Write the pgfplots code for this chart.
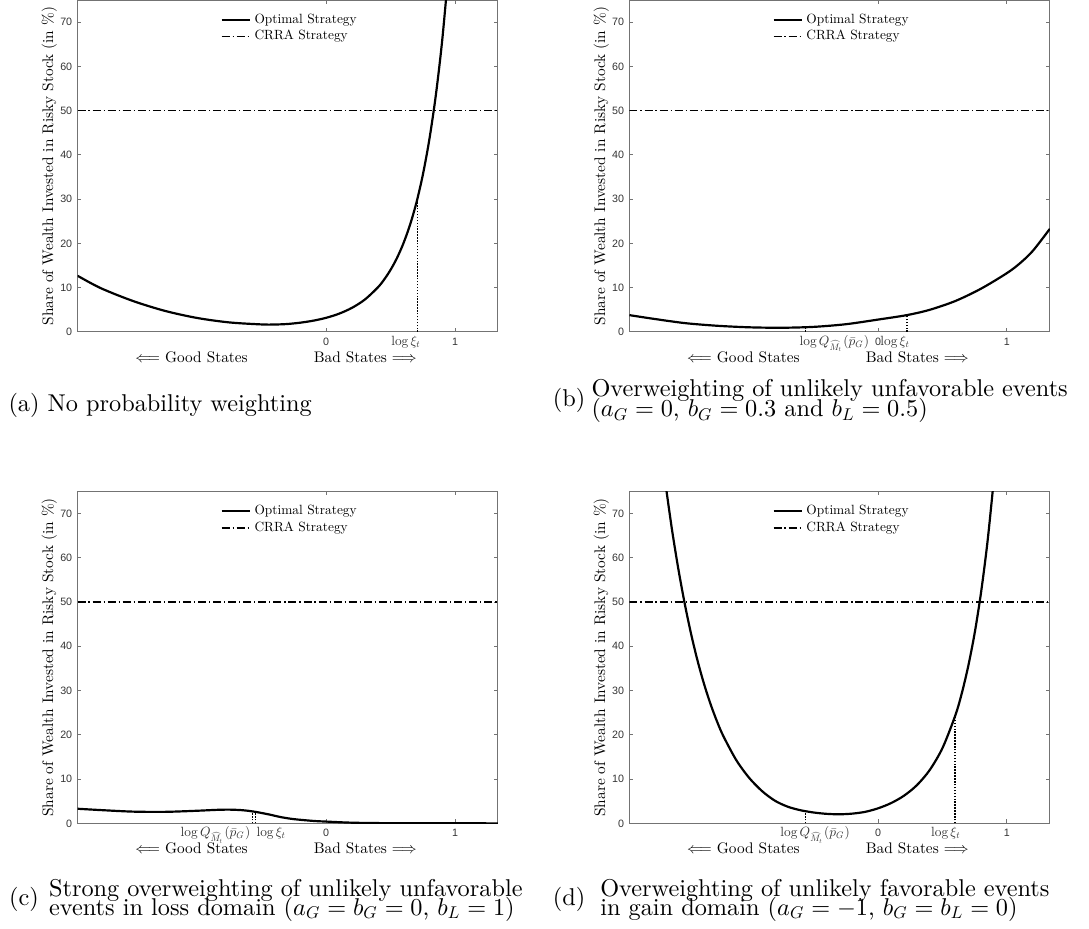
\documentclass[border=0pt]{standalone}
\usepackage{fontspec}
\setmainfont{lmroman10-regular.otf}[ItalicFont=lmroman10-italic.otf, BoldFont=lmroman10-bold.otf]
\DeclareFontShape{OML}{cmm}{m}{it}{<->cmmi10}{}
\DeclareFontShape{OMS}{cmsy}{m}{n}{<->cmsy10}{}
\DeclareFontShape{OMX}{cmex}{m}{n}{<->cmex10}{}
\DeclareFontShape{OT1}{cmr}{m}{n}{<->cmr10}{}
\usepackage{pgfplots}
\pgfplotsset{compat=1.18}
\newfontfamily\sansf{Liberation Sans}
\newcommand\tickf{\sansf\fontsize{4.4}{5}\selectfont}
\newcommand\mathtf{\fontsize{5.5}{6}\selectfont}
\newcommand\labf{\fontsize{6.3}{7}\selectfont}
\newcommand\legf{\fontsize{5.5}{6}\selectfont}
\pgfplotsset{
 legend image code/.code={\draw[#1] (0pt,0pt) -- (11.7pt,0pt);},
 panel/.style={
  scale only axis, width=173pt, height=136.6pt, anchor=south west,
  xmin=-1.93, xmax=1.333, ymin=0, ymax=75,
  xtick={0,1}, xticklabels={0,1},
  ytick={0,10,...,70}, yticklabels={0,10,20,30,40,50,60,70},
  xtick pos=both, ytick pos=both, tick align=inside,
  major tick length=1.6pt,
  axis line style={black!55, line width=0.4pt},
  every tick/.style={black!55, line width=0.4pt},
  ticklabel style={font=\tickf, text=black!80},
  xticklabel style={anchor=base, yshift=-5.6pt, inner sep=0pt},
  yticklabel style={anchor=east, inner sep=0pt, xshift=-2pt},
  extra x tick style={major tick length=0pt},
  clip mode=individual,
  legend style={at={(0.339,0.961)}, anchor=north west, draw=none, fill=none,
    inner sep=0pt, font=\legf, nodes={inner sep=0pt, text height=4pt, text depth=1.2pt},
    row sep=1.7pt, column sep=1.4pt},
  legend cell align=left,
 },
 opt/.style={black, line width=0.9pt, smooth, tension=0.5},
 crra/.style={black, line width=0.5pt, dash pattern=on 3.3pt off 1.2pt on 0.5pt off 1.2pt},
 dotl/.style={black, line width=0.65pt, dash pattern=on 0.6pt off 0.6pt, forget plot},
}
\newcommand\axlabels{%
  \node[rotate=90, anchor=base, font=\labf, inner sep=0pt] at ([xshift=-10pt]rel axis cs:0,0.5) {Share of Wealth Invested in Risky Stock (in \%)};
  \node[anchor=base east, font=\labf, inner sep=0pt] at ([yshift=-12.5pt]rel axis cs:0.406,0) {$\Longleftarrow$ Good States};
  \node[anchor=base west, font=\labf, inner sep=0pt] at ([yshift=-12.5pt]rel axis cs:0.561,0) {Bad States $\Longrightarrow$};
}
\begin{document}
\begin{tikzpicture}
\path[use as bounding box] (0,0) rectangle (448.1pt,381.9pt);

% (a)
\begin{axis}[panel, at={(31.9pt,245.3pt)},
  extra x ticks={0.708},
  extra x tick labels={\llap{\mathtf$\log\xi_t$\hspace{-1.5pt}}}]
\addplot[opt] coordinates {(-1.93,12.7) (-1.75,9.9) (-1.5,7.0) (-1.25,4.75) (-1.0,3.15) (-0.75,2.15) (-0.5,1.7) (-0.4,1.68) (-0.3,1.8) (-0.2,2.1) (-0.1,2.55) (0,3.2) (0.1,4.13) (0.2,5.45) (0.3,7.32) (0.4,10.04) (0.45,11.85) (0.5,14.06) (0.55,16.75) (0.6,20.07) (0.65,24.15) (0.7,29.2) (0.75,35.5) (0.8,43.4) (0.85,53.3) (0.9,65.8) (0.95,81.7)};
\addlegendentry{Optimal Strategy}
\addplot[crra] coordinates {(-1.93,50) (1.333,50)};
\addlegendentry{CRRA Strategy}
\addplot[dotl] coordinates {(0.708,0) (0.708,30.1)};
\axlabels
\end{axis}

% (b)
\begin{axis}[panel, at={(259.0pt,245.3pt)},
  extra x ticks={-0.562,0.222},
  extra x tick labels={{\rlap{\hspace{-2.5pt}\mathtf$\log Q_{\widehat{M}_t}(\bar p_G)$}},{\llap{\mathtf$\log\xi_t$\hspace{-1.4pt}}}}]
\addplot[opt] coordinates {(-1.93,3.8) (-1.75,3.0) (-1.5,2.0) (-1.25,1.4) (-1.0,1.05) (-0.75,0.95) (-0.5,1.15) (-0.25,1.75) (0,2.8) (0.222,3.8) (0.4,5.0) (0.6,7.0) (0.8,9.8) (1.0,13.3) (1.1,15.5) (1.2,18.3) (1.333,23.3)};
\addlegendentry{Optimal Strategy}
\addplot[crra] coordinates {(-1.93,50) (1.333,50)};
\addlegendentry{CRRA Strategy}
\addplot[dotl] coordinates {(-0.562,0) (-0.562,1.1)};
\addplot[dotl] coordinates {(0.222,0) (0.222,3.8)};
\axlabels
\end{axis}

% (c)
\begin{axis}[panel, at={(31.9pt,43.1pt)},
  extra x ticks={-0.571,-0.550},
  extra x tick labels={{\llap{\mathtf$\log Q_{\widehat{M}_t}(\bar p_G)$\hspace{1pt}}},{\rlap{\hspace{0.5pt}\mathtf$\log\xi_t$}}}]
\addplot[opt] coordinates {(-1.93,3.3) (-1.75,3.0) (-1.5,2.65) (-1.25,2.6) (-1.0,2.85) (-0.85,3.05) (-0.75,3.1) (-0.65,2.97) (-0.56,2.65) (-0.45,2.05) (-0.35,1.4) (-0.25,0.95) (-0.1,0.55) (0,0.4) (0.2,0.15) (0.45,0.05) (0.8,0.02) (1.333,0.0)};
\addlegendentry{Optimal Strategy}
\addplot[crra] coordinates {(-1.93,50) (1.333,50)};
\addlegendentry{CRRA Strategy}
\addplot[dotl] coordinates {(-0.571,0) (-0.571,2.75)};
\addplot[dotl] coordinates {(-0.550,0) (-0.550,2.62)};
\axlabels
\end{axis}

% (d)
\begin{axis}[panel, at={(259.0pt,43.1pt)},
  extra x ticks={-0.562,0.595},
  extra x tick labels={{\rlap{\hspace{-10.4pt}\mathtf$\log Q_{\widehat{M}_t}(\bar p_G)$}},{\llap{\mathtf$\log\xi_t$\hspace{-2.5pt}}}}]
\addplot[opt] coordinates {(-1.65,76.7) (-1.6,66.4) (-1.55,57.4) (-1.5,49.5) (-1.45,42.6) (-1.4,36.6) (-1.35,31.4) (-1.3,26.9) (-1.25,23.0) (-1.2,19.65) (-1.1,14.25) (-1.0,10.25) (-0.9,7.27) (-0.8,5.1) (-0.7,3.75) (-0.6,2.95) (-0.5,2.45) (-0.4,2.15) (-0.3,2.05) (-0.2,2.2) (-0.1,2.6) (0,3.4) (0.1,4.57) (0.2,6.23) (0.3,8.6) (0.4,12.03) (0.5,17.04) (0.6,24.46) (0.65,29.45) (0.7,35.6) (0.75,43.1) (0.8,52.4) (0.85,63.9) (0.9,78.2)};
\addlegendentry{Optimal Strategy}
\addplot[crra] coordinates {(-1.93,50) (1.333,50)};
\addlegendentry{CRRA Strategy}
\addplot[dotl] coordinates {(-0.562,0) (-0.562,2.85)};
\addplot[dotl] coordinates {(0.595,0) (0.595,24.0)};
\axlabels
\end{axis}

% captions
\node[anchor=base west, inner sep=0pt] at (3.3pt,212.5pt) {(a) No probability weighting};
\node[anchor=base west, inner sep=0pt] at (227.3pt,214.8pt) {(b)};
\node[anchor=base west, inner sep=0pt] at (243.2pt,218.9pt) {Overweighting of unlikely unfavorable events};
\node[anchor=base west, inner sep=0pt] at (243.2pt,210.4pt) {($a_G=0$, $b_G=0.3$ and $b_L=0.5$)};
\node[anchor=base west, inner sep=0pt] at (3.6pt,9.5pt) {(c)};
\node[anchor=base west, inner sep=0pt] at (20.0pt,13.2pt) {Strong overweighting of unlikely unfavorable};
\node[anchor=base west, inner sep=0pt] at (20.0pt,5.35pt) {events in loss domain ($a_G=b_G=0$, $b_L=1$)};
\node[anchor=base west, inner sep=0pt] at (227.3pt,9.5pt) {(d)};
\node[anchor=base west, inner sep=0pt] at (246.8pt,13.2pt) {Overweighting of unlikely favorable events};
\node[anchor=base west, inner sep=0pt] at (246.8pt,5.35pt) {in gain domain ($a_G=-1$, $b_G=b_L=0$)};
\end{tikzpicture}
\end{document}
